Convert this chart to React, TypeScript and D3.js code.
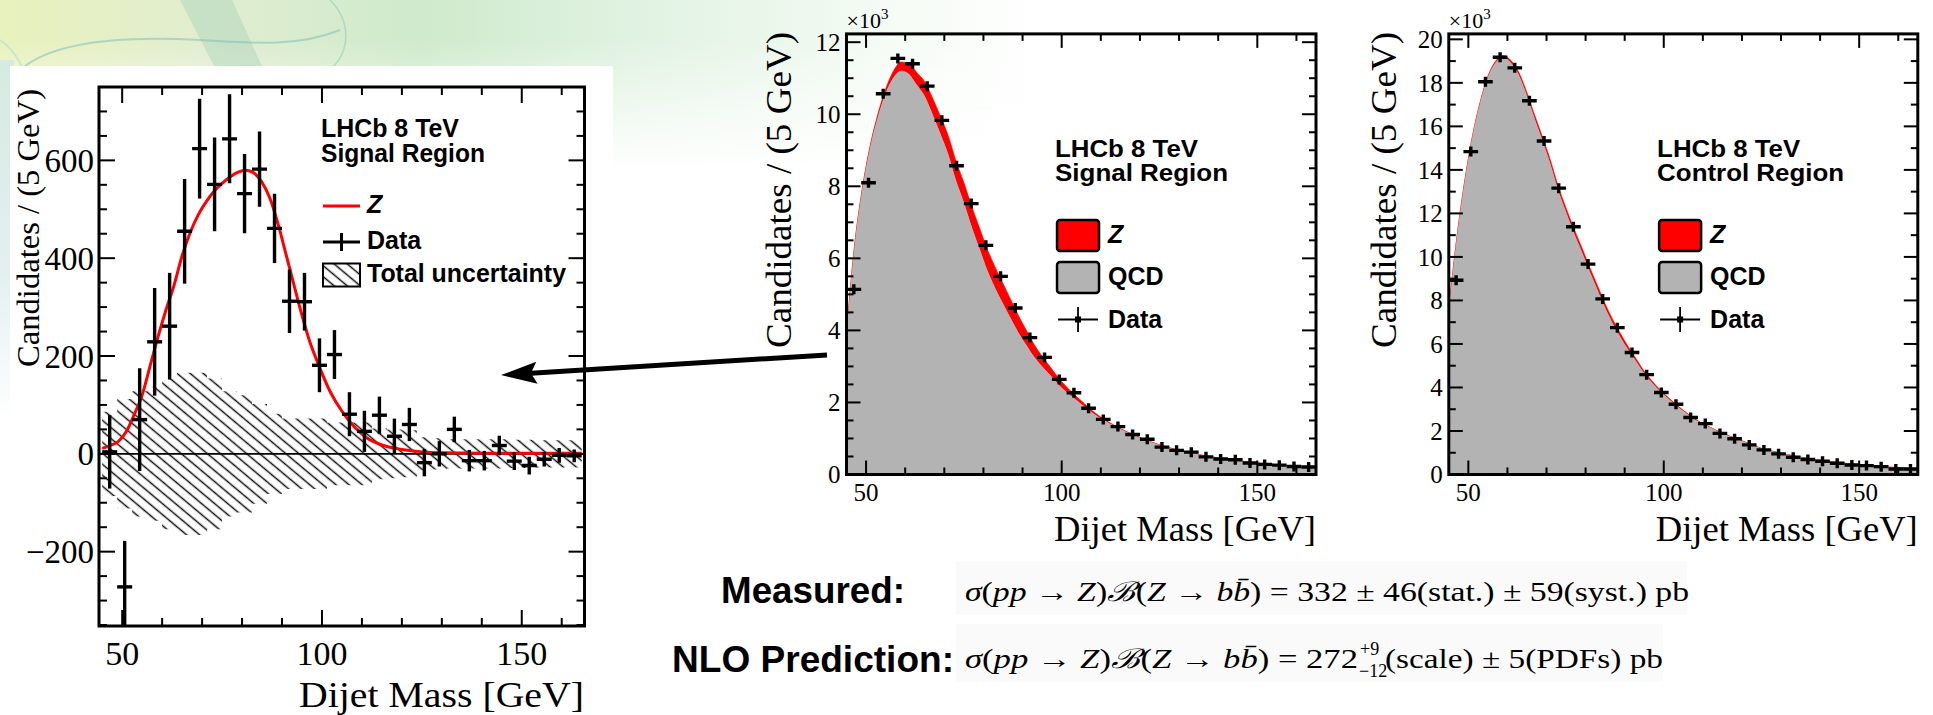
import React from 'react';
import * as d3 from 'd3';

// ---------------- data ----------------
const binCenters = [46.875, 50.625, 54.375, 58.125, 61.875, 65.625, 69.375, 73.125, 76.875, 80.625, 84.375, 88.125, 91.875, 95.625, 99.375, 103.125, 106.875, 110.625, 114.375, 118.125, 121.875, 125.625, 129.375, 133.125, 136.875, 140.625, 144.375, 148.125, 151.875, 155.625, 159.375, 163.125];
const binWidth = 3.75;

// background-subtracted signal region (left panel)
const subtractedData = [4, -272, 70, 229, 261, 455, 624, 551, 644, 532, 582, 461, 312, 311, 181, 203, 81, 46, 79, 36, 60, -18, 0, 50, -14, -14, 17, -15, -24, -11, -3, -4];
const subtractedErr = [75, 94, 105, 110, 109, 107, 102, 96, 91, 81, 77, 71, 65, 59, 55, 50, 45, 42, 38, 36, 34, 28, 26, 26, 22, 20, 20, 18, 18, 15, 15, 13];
const totalUncertainty = [86, 112, 128, 137, 154, 166, 166, 154, 128, 120, 102, 82, 72, 72, 72, 64, 64, 64, 52, 50, 48, 34, 32, 30, 30, 30, 30, 29, 29, 28, 28, 28];

// signal / control region data (thousands)
const signalRegionData = [5.14, 8.10, 10.57, 11.55, 11.40, 10.78, 9.83, 8.57, 7.52, 6.36, 5.50, 4.62, 3.80, 3.25, 2.64, 2.27, 1.84, 1.53, 1.33, 1.11, 0.98, 0.76, 0.67, 0.62, 0.49, 0.43, 0.41, 0.32, 0.28, 0.26, 0.22, 0.21];
const controlRegionData = [8.93, 14.84, 18.05, 19.18, 18.69, 17.18, 15.33, 13.16, 11.39, 9.67, 8.07, 6.75, 5.61, 4.59, 3.77, 3.23, 2.62, 2.34, 1.89, 1.64, 1.36, 1.13, 0.95, 0.79, 0.69, 0.61, 0.52, 0.44, 0.41, 0.36, 0.25, 0.25];

// fitted curves sampled on a mass grid
const curveX = [45, 47, 49, 51, 53, 55, 57, 59, 61, 63, 65, 67, 69, 71, 73, 75, 77, 79, 81, 83, 85, 87, 89, 91, 93, 95, 97, 99, 102, 105, 108, 111, 115, 120, 125, 130, 140, 150, 165];
const zSignal = [11, 17, 25, 45, 80, 120, 180, 240, 295, 345, 405, 452, 488, 515, 537, 553, 566, 576, 580, 574, 555, 522, 470, 408, 345, 283, 228, 185, 128, 87, 56, 34, 18, 9, 4, 2, 1, 1, 1];
const qcdSignal = [3.89, 6.28, 7.88, 9.06, 9.92, 10.58, 11.02, 11.21, 11.11, 10.81, 10.50, 10.00, 9.46, 8.89, 8.16, 7.55, 6.88, 6.27, 5.67, 5.18, 4.75, 4.33, 3.93, 3.59, 3.26, 3.00, 2.77, 2.52, 2.22, 1.96, 1.70, 1.49, 1.26, 1.02, 0.82, 0.67, 0.46, 0.32, 0.20];
const zControl = [4, 6, 9, 15, 27, 42, 62, 83, 102, 120, 140, 156, 168, 178, 186, 191, 195, 198, 200, 198, 191, 180, 162, 140, 119, 97, 79, 64, 44, 30, 19, 12, 6, 3, 1, 1, 0, 0, 0];
const qcdControl = [7.60, 10.79, 13.39, 15.49, 17.07, 18.26, 18.94, 19.17, 18.90, 18.33, 17.41, 16.34, 15.33, 14.27, 13.06, 12.06, 11.11, 10.25, 9.35, 8.50, 7.66, 6.92, 6.29, 5.71, 5.18, 4.65, 4.22, 3.84, 3.36, 2.92, 2.53, 2.24, 1.89, 1.55, 1.20, 0.98, 0.65, 0.45, 0.26];

const xTickLabels = [50, 100, 150];
const leftYTicks = [-200, 0, 200, 400, 600];
const midYTicks = [0, 2, 4, 6, 8, 10, 12];
const rightYTicks = [0, 2, 4, 6, 8, 10, 12, 14, 16, 18, 20];

// ---------------- helpers ----------------
const SERIF = '"Liberation Serif", "Times New Roman", serif';
const SANS = '"Liberation Sans", Arial, sans-serif';
const RED = '#ff0000';
const GRAY = '#b3b3b3';

type Scale = d3.ScaleLinear<number, number>;

function stepValues(lo: number, hi: number, step: number) {
  const out: number[] = [];
  const k0 = Math.ceil(lo / step - 1e-9);
  const k1 = Math.floor(hi / step + 1e-9);
  for (let k = k0; k <= k1; k++) out.push(Math.round(k * step * 1000) / 1000);
  return out;
}

function Frame({ xs, ys, xMinor, xMajor, yMinor, yMajor, majLen, minLen }: { xs: Scale; ys: Scale; xMinor: number; xMajor: number; yMinor: number; yMajor: number; majLen: number; minLen: number }) {
  const [x0, x1] = xs.range();
  const [y0, y1] = ys.range();
  const [dx0, dx1] = xs.domain();
  const [dy0, dy1] = ys.domain();
  const xt = stepValues(dx0, dx1, xMinor);
  const yt = stepValues(dy0, dy1, yMinor);
  const isMaj = (v: number, m: number) => Math.abs(v / m - Math.round(v / m)) < 1e-6;
  return (
    <g stroke="#000" fill="none">
      {xt.map((v) => {
        const L = isMaj(v, xMajor) ? majLen : minLen;
        const x = xs(v);
        return (
          <g key={'x' + v} strokeWidth={2}>
            <line x1={x} x2={x} y1={y0} y2={y0 - L} />
            <line x1={x} x2={x} y1={y1} y2={y1 + L} />
          </g>
        );
      })}
      {yt.map((v) => {
        const L = isMaj(v, yMajor) ? majLen : minLen;
        const y = ys(v);
        return (
          <g key={'y' + v} strokeWidth={2}>
            <line x1={x0} x2={x0 + L} y1={y} y2={y} />
            <line x1={x1} x2={x1 - L} y1={y} y2={y} />
          </g>
        );
      })}
      <rect x={x0} y={y1} width={x1 - x0} height={y0 - y1} strokeWidth={3} />
    </g>
  );
}

function StackPanel({ id, xs, ys, qcd, z, data, yTicks, yMinor, title2, yLabelX }: { id: string; xs: Scale; ys: Scale; qcd: number[]; z: number[]; data: number[]; yTicks: number[]; yMinor: number; title2: string; yLabelX: number }) {
  const rows = curveX.map((x, i) => ({ x, qcd: qcd[i], z: z[i] / 1000 }));
  const stacked = d3.stack<any>().keys(['qcd', 'z'])(rows);
  const area = d3
    .area<any>()
    .x((d) => xs(d.data.x))
    .y0((d) => ys(d[0]))
    .y1((d) => ys(d[1]))
    .curve(d3.curveMonotoneX);
  const [x0, x1] = xs.range();
  const [y0, y1] = ys.range();
  const lx = xs(98.3);
  return (
    <g>
      <defs>
        <clipPath id={'clip' + id}>
          <rect x={x0} y={y1} width={x1 - x0} height={y0 - y1} />
        </clipPath>
      </defs>
      <g clipPath={`url(#clip${id})`}>
        <path d={area(stacked[1] as any) || ''} fill={RED} stroke={RED} strokeWidth={0.6} />
        <path d={area(stacked[0] as any) || ''} fill={GRAY} />
        {data.map((v, i) => {
          const c = binCenters[i];
          const y = ys(v);
          return (
            <g key={i} stroke="#000" strokeWidth={3.4}>
              <line x1={xs(c - binWidth / 2)} x2={xs(c + binWidth / 2)} y1={y} y2={y} />
              <line x1={xs(c)} x2={xs(c)} y1={y - 5} y2={y + 5} />
            </g>
          );
        })}
      </g>
      <Frame xs={xs} ys={ys} xMinor={10} xMajor={50} yMinor={yMinor} yMajor={2} majLen={14} minLen={7} />
      {yTicks.map((t) => (
        <text key={t} x={x0 - 6} y={ys(t)} dy="0.35em" textAnchor="end" fontFamily={SERIF} fontSize={25}>{t}</text>
      ))}
      {xTickLabels.map((t) => (
        <text key={t} x={xs(t)} y={501} textAnchor="middle" fontFamily={SERIF} fontSize={25}>{t}</text>
      ))}
      <text x={x0} y={28} fontFamily={SERIF} fontSize={22}>
        ×10<tspan fontSize={15} dy={-9}>3</tspan>
      </text>
      <text x={x1 - 262} y={541} fontFamily={SERIF} fontSize={36} textLength={262} lengthAdjust="spacingAndGlyphs">Dijet Mass [GeV]</text>
      <text transform={`translate(${yLabelX},348) rotate(-90)`} fontFamily={SERIF} fontSize={36} textLength={316} lengthAdjust="spacingAndGlyphs">Candidates / (5 GeV)</text>
      {/* legend */}
      <g fontFamily={SANS} fontWeight="bold" fontSize={24}>
        <text x={lx} y={157} textLength={143} lengthAdjust="spacingAndGlyphs">LHCb 8 TeV</text>
        <text x={lx} y={181} textLength={title2 === 'Signal Region' ? 173 : 187} lengthAdjust="spacingAndGlyphs">{title2}</text>
        <rect x={lx + 2} y={220} width={42} height={31} rx={3} fill={RED} stroke="#000" strokeWidth={2.5} />
        <rect x={lx + 2} y={262} width={42} height={31} rx={3} fill={GRAY} stroke="#000" strokeWidth={2.5} />
        <text x={lx + 53} y={243} fontStyle="italic" fontSize={25}>Z</text>
        <text x={lx + 53} y={285} fontSize={25}>QCD</text>
        <text x={lx + 53} y={328} fontSize={25}>Data</text>
        <line x1={lx + 3} x2={lx + 43} y1={319.5} y2={319.5} stroke="#000" strokeWidth={1.8} />
        <line x1={lx + 23} x2={lx + 23} y1={307} y2={332} stroke="#000" strokeWidth={1.8} />
        <rect x={lx + 20} y={316.5} width={6} height={6} fill="#000" />
      </g>
    </g>
  );
}

function LeftPanel() {
  const xs = d3.scaleLinear().domain([44.2, 165.7]).range([99, 584.5]);
  const ys = d3.scaleLinear().domain([-352, 750]).range([626, 87]);
  const [x0, x1] = xs.range();
  const [y0, y1] = ys.range();
  const edges = binCenters.map((c) => c - binWidth / 2).concat([binCenters[binCenters.length - 1] + binWidth / 2]);
  const unc = totalUncertainty.concat([totalUncertainty[totalUncertainty.length - 1]]);
  const band = d3
    .area<number>()
    .x((_, i) => xs(edges[i]))
    .y0((_, i) => ys(-unc[i]))
    .y1((_, i) => ys(unc[i]))
    .curve(d3.curveStepAfter);
  const zLine = d3
    .line<number>()
    .x((_, i) => xs(curveX[i]))
    .y((d) => ys(d))
    .curve(d3.curveMonotoneX);
  return (
    <g>
      <defs>
        <clipPath id="clipL">
          <rect x={x0} y={y1} width={x1 - x0} height={y0 - y1} />
        </clipPath>
      </defs>
      <g clipPath="url(#clipL)">
        <path d={band(edges) || ''} fill="url(#hatch)" />
        <line x1={x0} x2={x1} y1={ys(0)} y2={ys(0)} stroke="#000" strokeWidth={1.6} />
        <path d={zLine(zSignal) || ''} fill="none" stroke={RED} strokeWidth={3} />
        {subtractedData.map((v, i) => {
          const c = binCenters[i];
          const e = subtractedErr[i];
          return (
            <g key={i} stroke="#000" strokeWidth={3.4}>
              <line x1={xs(c - binWidth / 2)} x2={xs(c + binWidth / 2)} y1={ys(v)} y2={ys(v)} />
              <line x1={xs(c)} x2={xs(c)} y1={ys(v - e)} y2={ys(v + e)} />
            </g>
          );
        })}
      </g>
      <Frame xs={xs} ys={ys} xMinor={10} xMajor={50} yMinor={50} yMajor={200} majLen={16} minLen={8} />
      {leftYTicks.map((t) => (
        <text key={t} x={94} y={ys(t)} dy="0.35em" textAnchor="end" fontFamily={SERIF} fontSize={33}>{t < 0 ? '\u2212' + Math.abs(t) : t}</text>
      ))}
      {xTickLabels.map((t) => (
        <text key={t} x={xs(t)} y={665} textAnchor="middle" fontFamily={SERIF} fontSize={34}>{t}</text>
      ))}
      <text x={584 - 285} y={707} fontFamily={SERIF} fontSize={36} textLength={285} lengthAdjust="spacingAndGlyphs">Dijet Mass [GeV]</text>
      <text transform="translate(39,367) rotate(-90)" fontFamily={SERIF} fontSize={31} textLength={278} lengthAdjust="spacingAndGlyphs">Candidates / (5 GeV)</text>
      <g fontFamily={SANS} fontWeight="bold" fontSize={25}>
        <text x={321} y={137} textLength={138} lengthAdjust="spacingAndGlyphs">LHCb 8 TeV</text>
        <text x={321} y={161.5} textLength={164} lengthAdjust="spacingAndGlyphs">Signal Region</text>
        <line x1={323} x2={360} y1={206} y2={206} stroke={RED} strokeWidth={3} />
        <text x={367} y={213} fontStyle="italic">Z</text>
        <line x1={323} x2={360} y1={242} y2={242} stroke="#000" strokeWidth={3} />
        <line x1={341.5} x2={341.5} y1={233} y2={251} stroke="#000" strokeWidth={3} />
        <text x={367} y={248.5}>Data</text>
        <rect x={323} y={263.5} width={37} height={23} fill="url(#hatch)" stroke="#000" strokeWidth={2} />
        <text x={367} y={282} textLength={199} lengthAdjust="spacingAndGlyphs">Total uncertainty</text>
      </g>
    </g>
  );
}

function Background() {
  return (
    <g>
      <rect x={0} y={0} width={1933} height={715} fill="#fff" />
      <rect x={0} y={0} width={1050} height={170} fill="url(#bgH)" />
      <rect x={0} y={40} width={1050} height={131} fill="url(#bgV)" />
      <rect x={0} y={60} width={14} height={360} fill="url(#bgStrip)" />
      <path d="M180,0 L232,0 L262,66 L214,66 Z" fill="#a9d3bb" opacity={0.45} />
      <path d="M25,66 C60,40 130,36 200,40 C260,44 300,46 340,30" fill="none" stroke="#84bfb8" strokeWidth={2} opacity={0.55} />
      <path d="M330,0 C350,20 352,50 330,70" fill="none" stroke="#8cc5b8" strokeWidth={1.5} opacity={0.5} />
      <path d="M0,40 C30,60 50,120 12,200" fill="none" stroke="#9fcfd0" strokeWidth={2} opacity={0.4} />
      <rect x={10} y={66} width={603} height={649} fill="#fff" />
      <rect x={956} y={561} width={731} height={54} fill="#fafafa" />
      <rect x={956} y={624} width={707} height={58} fill="#fafafa" />
    </g>
  );
}

function Formulas() {
  const it = (s: string) => <tspan fontStyle="italic">{s}</tspan>;
  const lhs = (
    <>
      {it('σ')}
      <tspan>(</tspan>
      {it('pp')}
      <tspan>{' → '}</tspan>
      {it('Z')}
      <tspan>)</tspan>
      <tspan fontFamily='"DejaVu Serif", serif' fontStyle="italic">ℬ</tspan>
      <tspan>(</tspan>
      {it('Z')}
      <tspan>{' → '}</tspan>
      {it('b')}
      {it('b\u0304')}
      <tspan>)</tspan>
    </>
  );
  return (
    <g fill="#000">
      <text x={721} y={603} fontFamily={SANS} fontWeight="bold" fontSize={36} textLength={184} lengthAdjust="spacingAndGlyphs">Measured:</text>
      <text x={672} y={671.5} fontFamily={SANS} fontWeight="bold" fontSize={37} textLength={282} lengthAdjust="spacingAndGlyphs">NLO Prediction:</text>
      <text x={965} y={601} fontFamily={SERIF} fontSize={27} textLength={724} lengthAdjust="spacingAndGlyphs">
        {lhs}
        <tspan>{' = 332 ± 46(stat.) ± 59(syst.) pb'}</tspan>
      </text>
      <text x={965} y={668} fontFamily={SERIF} fontSize={27} textLength={393} lengthAdjust="spacingAndGlyphs">
        {lhs}
        <tspan>{' = 272'}</tspan>
      </text>
      <text x={1360} y={655} fontFamily={SERIF} fontSize={18}>+9</text>
      <text x={1359} y={677} fontFamily={SERIF} fontSize={18}>{'\u221212'}</text>
      <text x={1385} y={668} fontFamily={SERIF} fontSize={27} textLength={278} lengthAdjust="spacingAndGlyphs">(scale) ± 5(PDFs) pb</text>
    </g>
  );
}

function Arrow() {
  const tail = [827, 355];
  const tip = [501, 375];
  const dx = tip[0] - tail[0];
  const dy = tip[1] - tail[1];
  const L = Math.hypot(dx, dy);
  const ux = dx / L, uy = dy / L;
  const px = -uy, py = ux;
  const hl = 36, hw = 11;
  const bx = tip[0] - ux * hl, by = tip[1] - uy * hl;
  const nx = tip[0] - ux * (hl - 6), ny = tip[1] - uy * (hl - 6);
  return (
    <g>
      <line x1={tail[0]} y1={tail[1]} x2={nx} y2={ny} stroke="#000" strokeWidth={5} />
      <path d={`M${tip[0]},${tip[1]} L${bx + px * hw},${by + py * hw} L${nx},${ny} L${bx - px * hw},${by - py * hw} Z`} fill="#000" />
    </g>
  );
}

export default function App() {
  const xM = d3.scaleLinear().domain([45, 165]).range([846.5, 1316]);
  const yM = d3.scaleLinear().domain([0, 12.23]).range([474.5, 33.9]);
  const xR = d3.scaleLinear().domain([45, 165]).range([1448.8, 1917.8]);
  const yR = d3.scaleLinear().domain([0, 20.25]).range([474.5, 33.9]);
  return (
    <div style={{ position: 'absolute', left: 0, top: 0 }}>
      <svg width={1933} height={715} viewBox="0 0 1933 715" style={{ display: 'block' }}>
        <defs>
          <pattern id="hatch" patternUnits="userSpaceOnUse" width={8.4} height={8.4} patternTransform="rotate(-50)">
            <line x1={4.2} x2={4.2} y1={0} y2={8.4} stroke="#111" strokeWidth={1.5} />
          </pattern>
          <linearGradient id="bgH" x1="0" x2="1" y1="0" y2="0">
            <stop offset="0" stopColor="#e8f2bd" />
            <stop offset="0.2" stopColor="#e1edd0" />
            <stop offset="0.4" stopColor="#cfeacc" />
            <stop offset="0.6" stopColor="#e0f2e1" />
            <stop offset="0.85" stopColor="#f5fbf5" />
            <stop offset="1" stopColor="#ffffff" />
          </linearGradient>
          <linearGradient id="bgV" x1="0" x2="0" y1="0" y2="1">
            <stop offset="0" stopColor="#fff" stopOpacity={0} />
            <stop offset="1" stopColor="#fff" stopOpacity={1} />
          </linearGradient>
          <linearGradient id="bgStrip" x1="0" x2="0" y1="0" y2="1">
            <stop offset="0" stopColor="#d5eae1" />
            <stop offset="0.6" stopColor="#e4f0f0" />
            <stop offset="1" stopColor="#ffffff" />
          </linearGradient>
        </defs>
        <Background />
        <LeftPanel />
        <StackPanel id="M" xs={xM} ys={yM} qcd={qcdSignal} z={zSignal} data={signalRegionData} yTicks={midYTicks} yMinor={0.5} title2="Signal Region" yLabelX={791} />
        <StackPanel id="R" xs={xR} ys={yR} qcd={qcdControl} z={zControl} data={controlRegionData} yTicks={rightYTicks} yMinor={1} title2="Control Region" yLabelX={1396} />
        <Formulas />
        <Arrow />
      </svg>
    </div>
  );
}
